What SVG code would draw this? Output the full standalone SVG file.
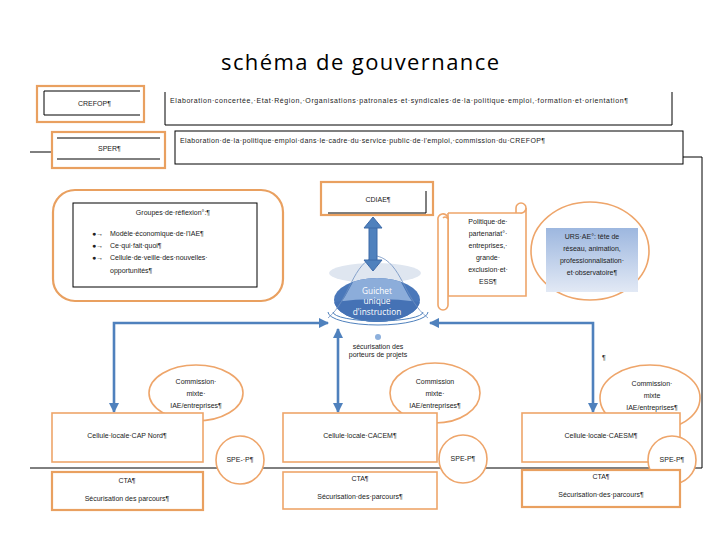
<svg xmlns="http://www.w3.org/2000/svg" width="720" height="540" viewBox="0 0 720 540">
<defs>
<style>
.t{font-family:"Liberation Sans","DejaVu Sans",sans-serif;font-size:7px;fill:#222}
.c{text-anchor:middle}
.o{fill:#fff;stroke:#eea56a;stroke-width:1.6}
.o2{fill:#fff;stroke:#e9a060;stroke-width:2.2}
.k{stroke:#000;stroke-width:1;fill:none}
.b{stroke:#4f81bd;stroke-width:2.6;fill:none}
.w{font-family:"Open Sans","DejaVu Sans",sans-serif;font-size:8.3px;fill:#fff;text-anchor:middle}
</style>
<marker id="ah" viewBox="0 0 10 10" refX="9" refY="5" markerWidth="4" markerHeight="4" orient="auto-start-reverse" markerUnits="strokeWidth">
<path d="M0,0 L10,5 L0,10 Z" fill="#4f81bd"/>
</marker>
<linearGradient id="g1" x1="0" y1="0" x2="0" y2="1">
<stop offset="0" stop-color="#9db7df"/>
<stop offset="1" stop-color="#e2e9f5"/>
</linearGradient>
<clipPath id="ce"><ellipse cx="377" cy="300" rx="43" ry="22"/></clipPath>
</defs>
<rect width="720" height="540" fill="#fff"/>
<text x="360" y="70" font-family="Open Sans, Liberation Sans, sans-serif" font-size="22" fill="#000" text-anchor="middle" textLength="278">schéma de gouvernance</text>

<g id="frame">
<path class="k" d="M683 157 H702 V468 H30"/>
<path class="k" d="M30 152 H52"/>
</g>

<g id="crefop">
<rect class="o2" x="37" y="86" width="107" height="36"/>
<path class="k" d="M140 91 H44 V115 H140"/>
<text class="t" x="78" y="106">CREFOP¶</text>
</g>
<g id="crefop-text">
<path class="k" d="M165 92 V125 H672 V92"/>
<text class="t" x="170" y="103" textLength="458">Elaboration·concertée,·Etat·Région,·Organisations·patronales·et·syndicales·de·la·politique·emploi,·formation·et·orientation¶</text>
</g>

<g id="sper">
<rect class="o2" x="52" y="132" width="113" height="36"/>
<path class="k" d="M57 138 H160 M57 159 H160"/>
<text class="t" x="98" y="151">SPER¶</text>
</g>
<g id="sper-text">
<rect class="k" x="175" y="131" width="508" height="33"/>
<text class="t" x="180" y="143" textLength="365">Elaboration·de·la·politique·emploi·dans·le·cadre·du·service·public·de·l'emploi,·commission·du·CREFOP¶</text>
</g>

<g id="groupes">
<rect class="o2" x="53" y="190" width="230" height="111" rx="22"/>
<rect class="k" x="73" y="203" width="184" height="84"/>
<text class="t c" x="173" y="215">Groupes·de·réflexion°:¶</text>
<text class="t" x="92" y="236">●→</text><text class="t" x="110" y="236">Modèle·économique·de·l'IAE¶</text>
<text class="t" x="92" y="248">●→</text><text class="t" x="110" y="248">Ce·qui·fait·quoi¶</text>
<text class="t" x="92" y="260">●→</text><text class="t" x="110" y="260">Cellule·de·veille·des·nouvelles·</text>
<text class="t" x="110" y="273">opportunités¶</text>
</g>

<g id="cdiae">
<rect class="o2" x="321" y="182" width="112" height="33"/>
<path class="k" d="M328 213 H426 V191"/>
<text class="t c" x="378" y="202">CDIAE¶</text>
</g>

<g id="politique">
<path class="o" d="M448 213 V296 H526 V208"/>
<path class="o" d="M448 213 H520 A5 5 0 0 0 526 208 A5 5 0 0 0 516 208 V213"/>
<path class="o" d="M438 220 A5 5 0 0 1 448 218 V305 A5 5 0 0 1 438 305 Z"/>
<path class="o" d="M443 218 A3 3 0 0 1 448 221"/>
<text class="t c" x="488" y="224">Politique·de·</text>
<text class="t c" x="488" y="236">partenariat°·</text>
<text class="t c" x="488" y="248">entreprises,·</text>
<text class="t c" x="488" y="260">grande·</text>
<text class="t c" x="488" y="272">exclusion·et·</text>
<text class="t c" x="488" y="284">ESS¶</text>
</g>

<g id="urs">
<ellipse class="o" cx="590" cy="251" rx="59" ry="49"/>
<rect x="546" y="228" width="92" height="64" fill="url(#g1)"/>
<text class="t c" x="592" y="239">URS·AE°: tête de</text>
<text class="t c" x="592" y="251">réseau, animation,</text>
<text class="t c" x="592" y="263">professionnalisation·</text>
<text class="t c" x="592" y="275">et·observatoire¶</text>
</g>

<g id="guichet">
<ellipse cx="375" cy="273" rx="46" ry="10" fill="#dfe6f0"/>
<ellipse cx="377" cy="300" rx="43" ry="22" fill="#4a78ba"/>
<path d="M332 312 C350 300 355 262 377 258 C399 262 404 300 422 312 Z" fill="#8cadda" clip-path="url(#ce)"/>
<path d="M334 302 Q377 296 420 302 L420 325 L334 325 Z" fill="#4572b5" clip-path="url(#ce)"/>
<path d="M328 318 C350 300 352 262 377 256 C402 262 404 300 428 318" fill="none" stroke="#6d8fc0" stroke-width="0.8"/>
<path d="M328 312 A50 13 0 0 0 428 312" fill="none" stroke="#4f81bd" stroke-width="1"/>
<path d="M333 312 A45 9 0 0 0 423 312" fill="none" stroke="#4f81bd" stroke-width="1"/>
<text class="w" x="377" y="294">Guichet</text>
<text class="w" x="377" y="304" fill="#c8d6ec">unique</text>
<text class="w" x="377" y="315">d'instruction</text>
<circle cx="378" cy="337" r="3" fill="#8db0dc"/>
<text class="t c" x="378" y="349" font-size="7">sécurisation des</text>
<text class="t c" x="378" y="357" font-size="6.5">porteurs de projets</text>
</g>

<g id="connectors">
<path d="M373 226 V262" stroke="#3d6aa8" stroke-width="9"/>
<path d="M373 226 V262" stroke="#4f81bd" stroke-width="7"/>
<path d="M364 228 L373 217 L382 228 Z M364 260 L373 271 L382 260 Z" fill="#4f81bd" stroke="#3d6aa8" stroke-width="1"/>
<path class="b" d="M114 412 V323 H328" marker-start="url(#ah)" marker-end="url(#ah)"/>
<path class="b" d="M593 412 V323 H430" marker-start="url(#ah)" marker-end="url(#ah)"/>
<path class="b" d="M338 329 V412" marker-start="url(#ah)" marker-end="url(#ah)"/>
</g>

<text class="t" x="602" y="360" font-size="9">¶</text>

<g id="commission1">
<ellipse class="o" cx="196" cy="393" rx="47" ry="28"/>
<text class="t c" x="196" y="384">Commission·</text>
<text class="t c" x="196" y="396">mixte·</text>
<text class="t c" x="196" y="408">IAE/entreprises¶</text>
</g>
<g id="commission2">
<ellipse class="o" cx="435" cy="393" rx="45" ry="30"/>
<text class="t c" x="435" y="384">Commission</text>
<text class="t c" x="435" y="396">mixte·</text>
<text class="t c" x="435" y="408">IAE/entreprises¶</text>
</g>
<g id="commission3">
<ellipse class="o" cx="650" cy="398" rx="50" ry="33"/>
<text class="t c" x="652" y="386">Commission·</text>
<text class="t c" x="652" y="398">mixte</text>
<text class="t c" x="652" y="410">IAE/entreprises¶</text>
</g>

<g id="cellule1">
<rect class="o" x="52" y="413" width="151" height="49"/>
<text class="t c" x="127" y="438">Cellule·locale·CAP Nord¶</text>
</g>
<g id="cellule2">
<rect class="o" x="283" y="413" width="154" height="49"/>
<text class="t c" x="360" y="438">Cellule·locale·CACEM¶</text>
</g>
<g id="cellule3">
<rect class="o" x="522" y="413" width="158" height="49"/>
<text class="t c" x="601" y="438">Cellule·locale·CAESM¶</text>
</g>

<g id="spe1">
<circle class="o" cx="240" cy="460" r="24"/>
<text class="t c" x="240" y="462">SPE-·P¶</text>
</g>
<g id="spe2">
<circle class="o" cx="463" cy="459" r="24"/>
<text class="t c" x="463" y="461">SPE-P¶</text>
</g>
<g id="spe3">
<circle class="o" cx="672" cy="460" r="24"/>
<text class="t c" x="672" y="462">SPE-P¶</text>
</g>

<g id="cta1">
<rect class="o2" x="52" y="472" width="151" height="38"/>
<text class="t c" x="127" y="483">CTA¶</text>
<text class="t c" x="127" y="501">Sécurisation des parcours¶</text>
</g>
<g id="cta2">
<rect class="o" x="283" y="472" width="154" height="37"/>
<text class="t c" x="360" y="481">CTA¶</text>
<text class="t c" x="360" y="499">Sécurisation·des·parcours¶</text>
</g>
<g id="cta3">
<rect class="o2" x="522" y="470" width="158" height="37"/>
<text class="t c" x="601" y="479">CTA¶</text>
<text class="t c" x="601" y="497">Sécurisation·des·parcours¶</text>
</g>
</svg>
